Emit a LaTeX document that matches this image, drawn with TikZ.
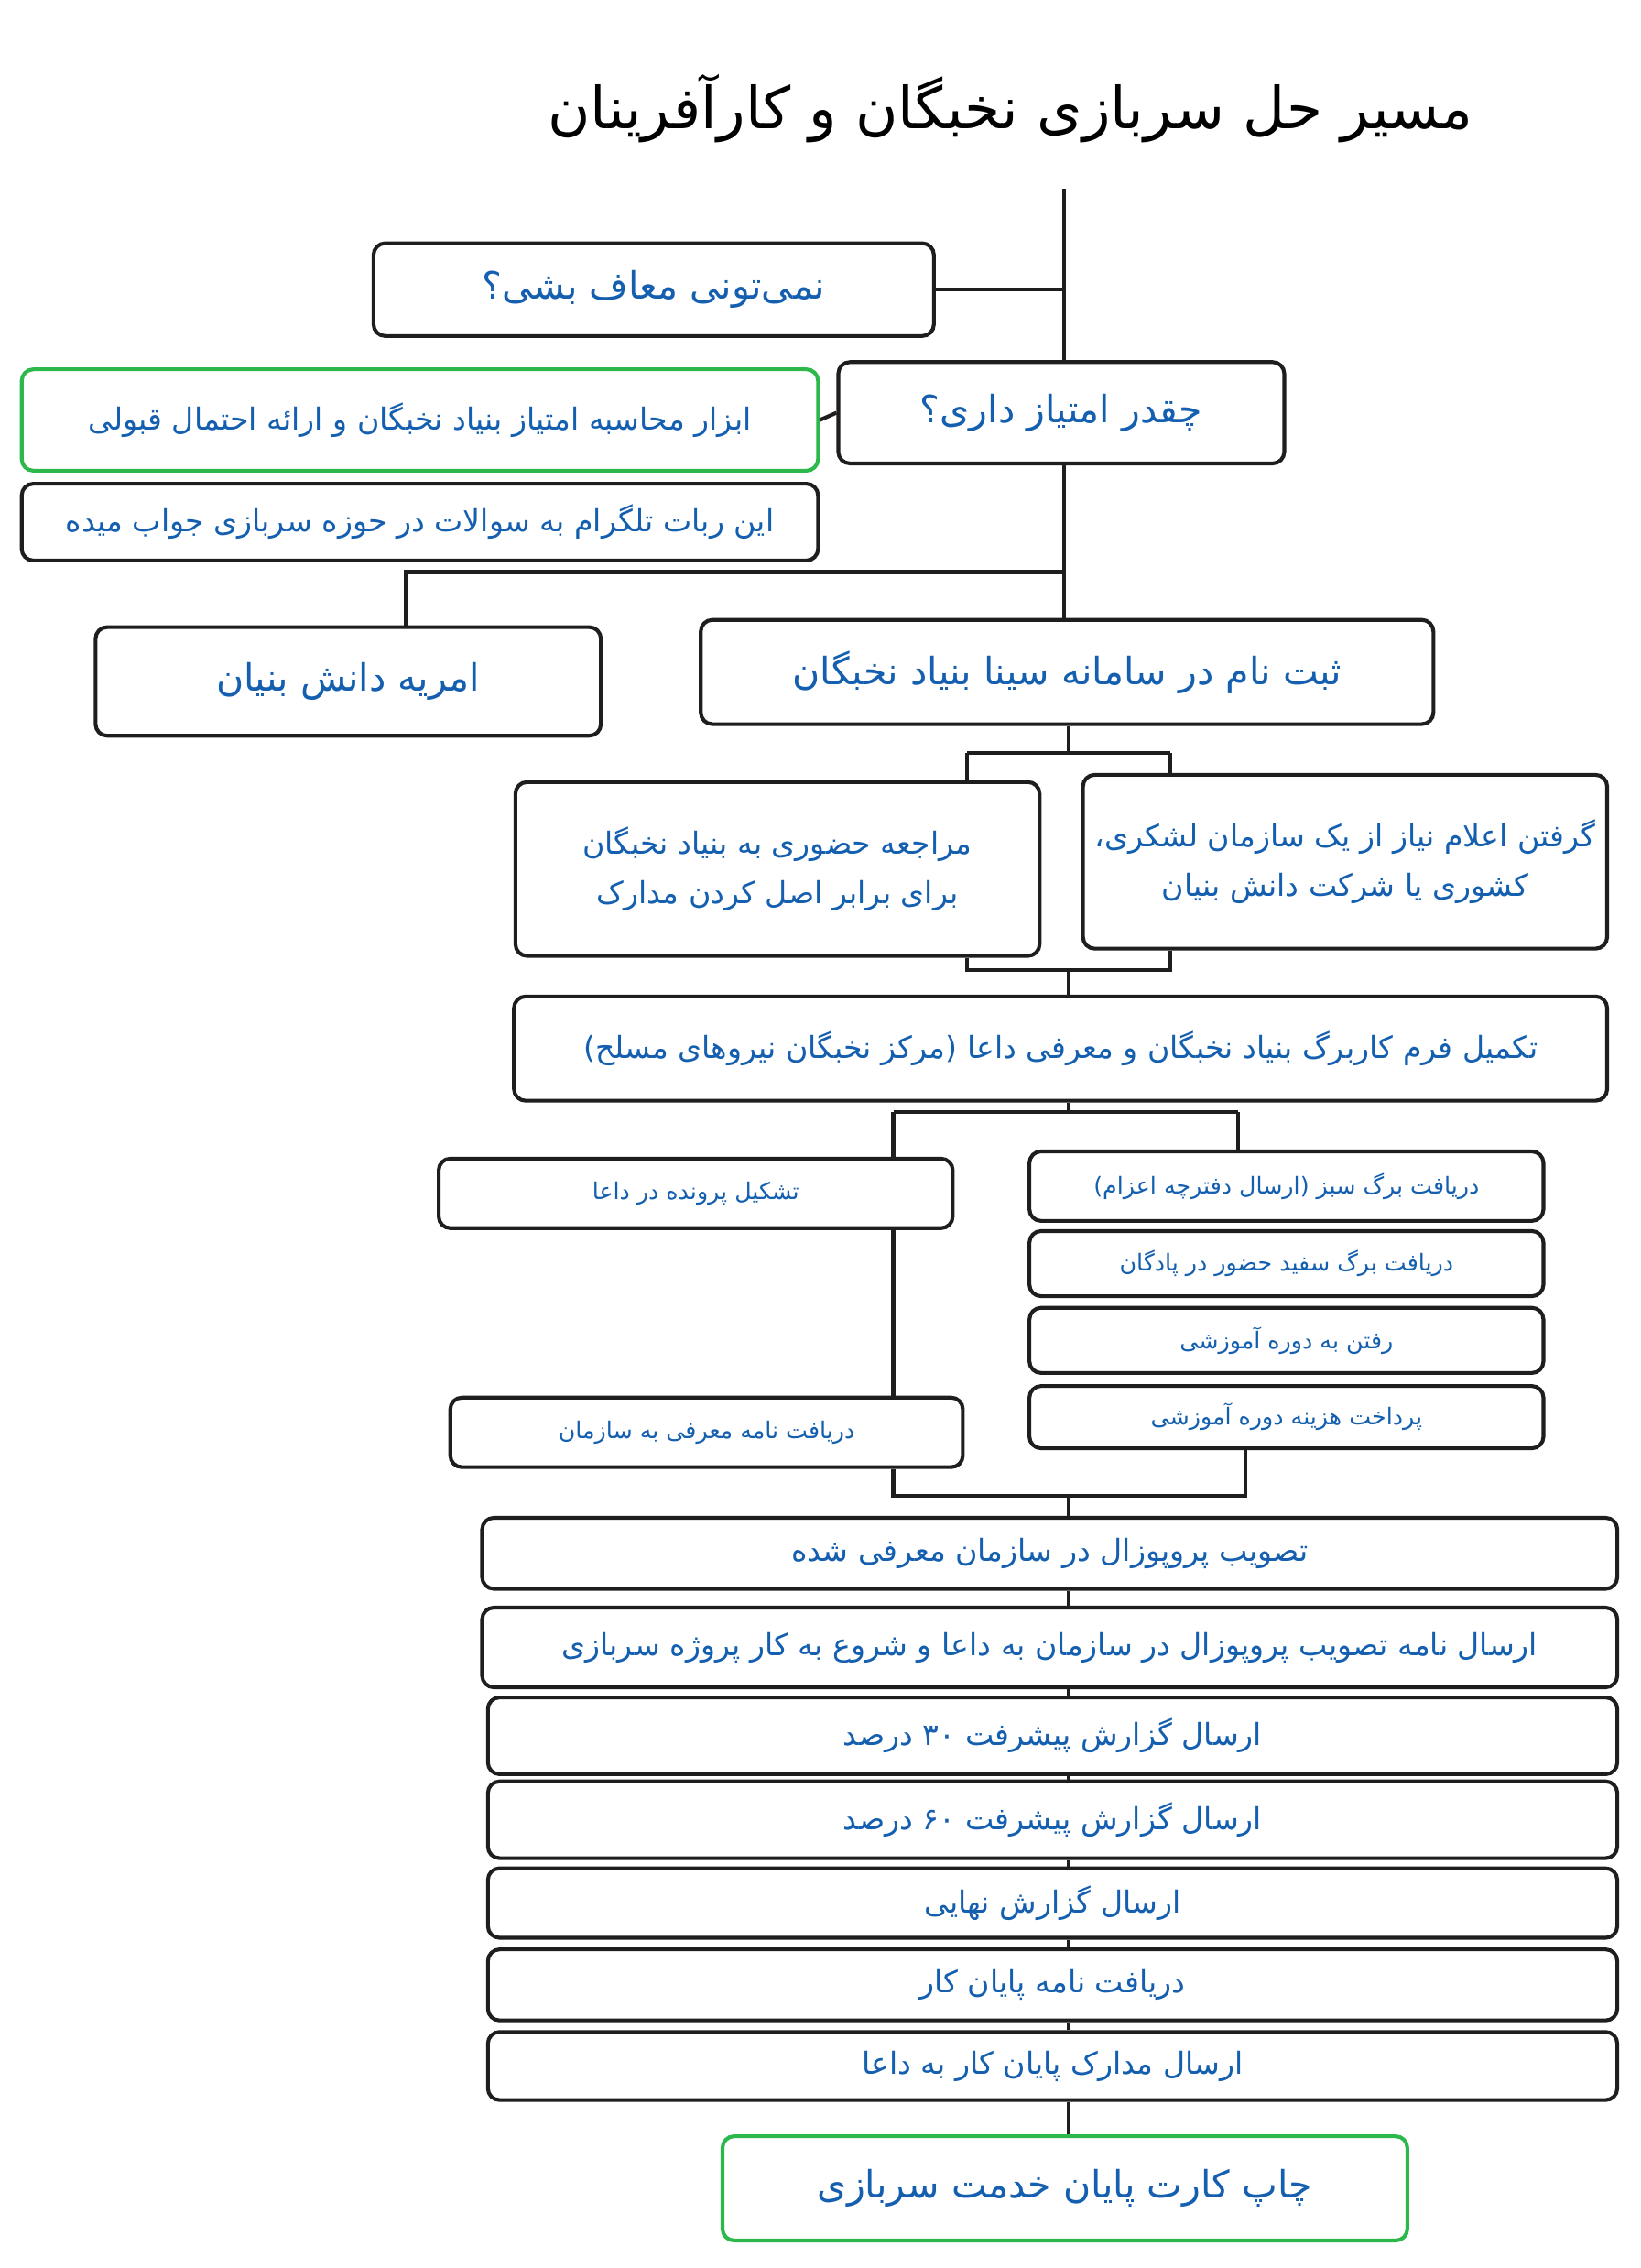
\documentclass[tikz,border=0pt]{standalone}
\usepackage{fontspec}
\newfontfamily\arabicfont[Script=Arabic]{DejaVu Sans}
\TeXXeTstate=1
\newcommand{\fa}[1]{\beginR #1\endR}
\definecolor{tblue}{RGB}{20,95,175}
\definecolor{tgreen}{RGB}{45,184,75}
\definecolor{lk}{RGB}{30,30,30}
\tikzset{
 bx/.style={draw=lk, line width=2.6pt, rounded corners=8pt, text=tblue, font=\arabicfont\fontsize{21}{34}\selectfont, align=center, inner sep=0pt},
 gbx/.style={bx, draw=tgreen},
 ln/.style={draw=lk, line width=2.6pt},
 sm/.style={font=\arabicfont\fontsize{16}{20}\selectfont},
 big/.style={font=\arabicfont\fontsize{26}{30}\selectfont}
}
\newcommand{\bxat}[6]{\node[#1, minimum width={#4-#2}, minimum height={#5-#3}] (#6) at ({(#2+#4)/2},{(#3+#5)/2})}
\begin{document}
\begin{tikzpicture}[x=1pt,y=-1pt]
\useasboundingbox[fill=white] (0,0) rectangle (1133,1566);
\node[font=\arabicfont\fontsize{40}{44}\selectfont] (title) at (698,75) {\fa{مسیر حل سربازی نخبگان و کارآفرینان}};
\coordinate (top) at (735,130);
\bxat{bx,big}{258}{168}{645}{232}{b1} {\fa{نمی‌تونی معاف بشی؟}};
\bxat{bx,big}{579}{250}{887}{320}{b2} {\fa{چقدر امتیاز داری؟}};
\bxat{gbx}{15}{255}{565}{325}{g1} {\fa{ابزار محاسبه امتیاز بنیاد نخبگان و ارائه احتمال قبولی}};
\bxat{bx}{15}{334}{565}{387}{tg} {\fa{این ربات تلگرام به سوالات در حوزه سربازی جواب میده}};
\bxat{bx,big}{66}{433}{415}{508}{am} {\fa{امریه دانش بنیان}};
\bxat{bx,big}{484}{428}{990}{500}{sb} {\fa{ثبت نام در سامانه سینا بنیاد نخبگان}};
\bxat{bx}{356}{540}{718}{660}{mr} {\fa{مراجعه حضوری به بنیاد نخبگان}\\\fa{برای برابر اصل کردن مدارک}};
\bxat{bx}{748}{535}{1110}{655}{ge} {\fa{گرفتن اعلام نیاز از یک سازمان لشکری،}\\\fa{کشوری یا شرکت دانش بنیان}};
\bxat{bx}{355}{688}{1110}{760}{tk} {\fa{تکمیل فرم کاربرگ بنیاد نخبگان و معرفی داعا (مرکز نخبگان نیروهای مسلح)}};
\bxat{bx,sm}{303}{800}{658}{848}{ts} {\fa{تشکیل پرونده در داعا}};
\bxat{bx,sm}{311}{965}{665}{1013}{nm} {\fa{دریافت نامه معرفی به سازمان}};
\bxat{bx,sm}{711}{795}{1066}{843}{r1} {\fa{دریافت برگ سبز (ارسال دفترچه اعزام)}};
\bxat{bx,sm}{711}{850}{1066}{895}{r2} {\fa{دریافت برگ سفید حضور در پادگان}};
\bxat{bx,sm}{711}{903}{1066}{948}{r3} {\fa{رفتن به دوره آموزشی}};
\bxat{bx,sm}{711}{957}{1066}{1000}{r4} {\fa{پرداخت هزینه دوره آموزشی}};
\bxat{bx}{333}{1048}{1117}{1097}{s1} {\fa{تصویب پروپوزال در سازمان معرفی شده}};
\bxat{bx}{333}{1110}{1117}{1165}{s2} {\fa{ارسال نامه تصویب پروپوزال در سازمان به داعا و شروع به کار پروژه سربازی}};
\bxat{bx}{337}{1172}{1117}{1225}{s3} {\fa{ارسال گزارش پیشرفت ۳۰ درصد}};
\bxat{bx}{337}{1230}{1117}{1283}{s4} {\fa{ارسال گزارش پیشرفت ۶۰ درصد}};
\bxat{bx}{337}{1290}{1117}{1338}{s5} {\fa{ارسال گزارش نهایی}};
\bxat{bx}{337}{1346}{1117}{1395}{s6} {\fa{دریافت نامه پایان کار}};
\bxat{bx}{337}{1403}{1117}{1450}{s7} {\fa{ارسال مدارک پایان کار به داعا}};
\bxat{gbx,big}{499}{1475}{972}{1547}{fin} {\fa{چاپ کارت پایان خدمت سربازی}};
% connectors
\draw[ln] (top) -- (b2.north -| top);
\draw[ln] (b1.east) -- (b1.east -| top);
\draw[ln] (b2.west) -- (g1.east);
\draw[ln] (b2.south -| top) -- (sb.north -| top);
\coordinate (j1) at (735,395);
\draw[ln] (j1) -| (am.north -| 280,0);
\coordinate (c1) at (738,520);
\draw[ln] (sb.south -| c1) -- (c1);
\draw[ln] (668,520) -- (808,520);
\draw[ln] (668,520) -- (mr.north -| 668,0);
\draw[ln] (808,520) -- (ge.north -| 808,0);
\draw[ln] (mr.south -| 668,0) -- (668,670) -- (808,670) -- (ge.south -| 808,0);
\draw[ln] (738,670) -- (tk.north -| 738,0);
\draw[ln] (tk.south -| 738,0) -- (738,768);
\draw[ln] (617,768) -- (855,768);
\draw[ln] (617,768) -- (ts.north -| 617,0);
\draw[ln] (855,768) -- (r1.north -| 855,0);
\draw[ln] (ts.south -| 617,0) -- (nm.north -| 617,0);
\draw[ln] (nm.south -| 617,0) -- (617,1033) -- (860,1033) -- (r4.south -| 860,0);
\draw[ln] (738,1033) -- (s1.north -| 738,0);
\draw[ln] (s1.south -| 738,0) -- (s2.north -| 738,0);
\draw[ln] (s2.south -| 738,0) -- (s3.north -| 738,0);
\draw[ln] (s3.south -| 738,0) -- (s4.north -| 738,0);
\draw[ln] (s4.south -| 738,0) -- (s5.north -| 738,0);
\draw[ln] (s5.south -| 738,0) -- (s6.north -| 738,0);
\draw[ln] (s6.south -| 738,0) -- (s7.north -| 738,0);
\draw[ln] (s7.south -| 738,0) -- (fin.north -| 738,0);
\end{tikzpicture}
\end{document}
